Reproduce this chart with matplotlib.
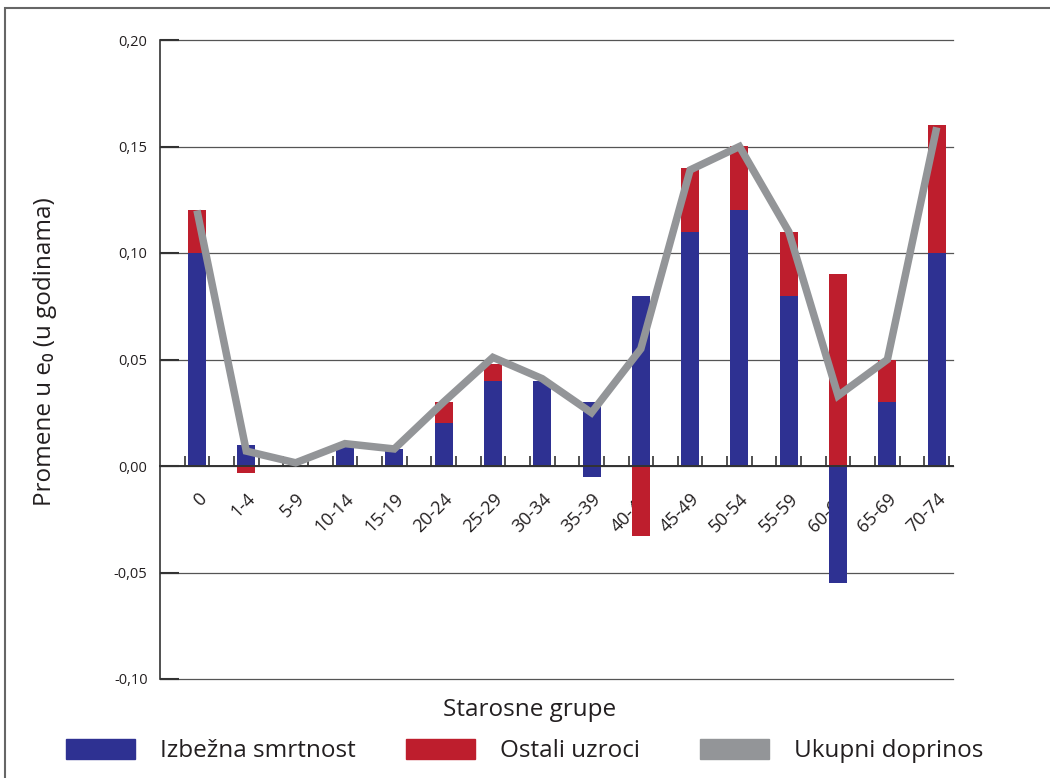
import numpy as np
import matplotlib
matplotlib.use('Agg')
import matplotlib.pyplot as plt
from matplotlib.patches import Patch, Rectangle

# Doprinos starosnih grupa promeni ocekivanog trajanja zivota
starosne_grupe = ['0', '1-4', '5-9', '10-14', '15-19', '20-24', '25-29', '30-34',
                  '35-39', '40-44', '45-49', '50-54', '55-59', '60-64', '65-69', '70-74']

# pozitivni i negativni delovi stubica
izbezna_plus = [0.100, 0.010, 0.000, 0.009, 0.008, 0.020, 0.040, 0.040,
                0.030, 0.080, 0.110, 0.120, 0.080, 0.000, 0.030, 0.100]
izbezna_minus = [0.000, 0.000, 0.000, 0.000, 0.000, 0.000, 0.000, 0.000,
                 -0.005, 0.000, 0.000, 0.000, 0.000, -0.055, 0.000, 0.000]
ostali_plus = [0.020, 0.000, 0.000, 0.000, 0.000, 0.010, 0.008, 0.000,
               0.000, 0.000, 0.030, 0.030, 0.030, 0.090, 0.020, 0.060]
ostali_minus = [0.000, -0.0035, 0.000, 0.000, 0.000, 0.000, 0.000, 0.000,
                0.000, -0.033, 0.000, 0.000, 0.000, 0.000, 0.000, 0.000]

ukupni_doprinos = [0.120, 0.007, 0.0015, 0.0105, 0.008, 0.030, 0.051, 0.041,
                   0.025, 0.055, 0.139, 0.150, 0.110, 0.033, 0.050, 0.159]

y_ticks = [-0.10, -0.05, 0.00, 0.05, 0.10, 0.15, 0.20]

PLAVA = '#2E3192'
CRVENA = '#BE1E2D'
SIVA = '#939598'
TEKST = '#231F20'

plt.rcParams['font.family'] = ['Open Sans', 'DejaVu Sans']


def main():
    fig = plt.figure(figsize=(10.5, 7.78), dpi=100)
    W, H = 1050, 778
    ax = fig.add_axes([160 / W, 1 - 679 / H, 793 / W, 639 / H])

    x = np.arange(len(starosne_grupe))
    sirina = 0.365

    ax.bar(x, izbezna_plus, sirina, color=PLAVA, zorder=2)
    ax.bar(x, ostali_plus, sirina, bottom=izbezna_plus, color=CRVENA, zorder=2)
    ax.bar(x, izbezna_minus, sirina, color=PLAVA, zorder=2)
    ax.bar(x, ostali_minus, sirina, bottom=izbezna_minus, color=CRVENA, zorder=2)

    ax.plot(x, ukupni_doprinos, color=SIVA, lw=5.4, solid_joinstyle='miter',
            solid_capstyle='butt', zorder=3)

    ax.set_xlim(-0.75, 15.33)
    ax.set_ylim(-0.10, 0.20)

    # y osa
    ax.set_yticks(y_ticks)
    ax.set_yticklabels([('%.2f' % v).replace('.', ',') for v in y_ticks])
    ax.tick_params(axis='y', direction='in', length=14, width=1.5, color='#333333',
                   labelsize=10.5, labelcolor=TEKST, pad=9)
    ax.grid(axis='y', color='#555555', lw=0.9)
    for linija in ax.get_ygridlines():
        linija.set_clip_on(False)
    ax.set_axisbelow(True)

    # x osa na nuli
    ax.spines['bottom'].set_position(('data', 0))
    ax.spines['bottom'].set_color('#333333')
    ax.spines['bottom'].set_linewidth(1.4)
    ax.spines['left'].set_color('#333333')
    ax.spines['left'].set_linewidth(1.2)
    ax.spines['top'].set_visible(False)
    ax.spines['right'].set_visible(False)

    ax.set_xticks(x)
    ax.set_xticklabels(starosne_grupe, rotation=45, ha='right', va='top',
                       rotation_mode='anchor')
    ax.set_xticks(np.concatenate([x - 0.25, x + 0.25]), minor=True)
    ax.tick_params(axis='x', which='major', length=0, labelsize=13,
                   labelcolor=TEKST, pad=17)
    ax.tick_params(axis='x', which='minor', direction='in', length=7, width=1.2,
                   color='#333333')

    ax.set_ylabel('Promene u e\u2080 (u godinama)', fontsize=17.5, color=TEKST)
    ax.yaxis.set_label_coords(-0.13, 0.512)

    fig.text(530 / W, 1 - 710 / H, 'Starosne grupe', ha='center', va='center',
             fontsize=17.5, color=TEKST)

    # legenda
    stavke = [('Izbežna smrtnost', PLAVA, 66), ('Ostali uzroci', CRVENA, 406),
              ('Ukupni doprinos', SIVA, 700)]
    for tekst, boja, levo in stavke:
        leg = fig.legend(handles=[Patch(color=boja, label=tekst)], loc='center left',
                         bbox_to_anchor=(levo / W, 1 - 751 / H), frameon=False,
                         fontsize=17.5, handlelength=2.85, handleheight=0.9,
                         handletextpad=1.0, borderpad=0, borderaxespad=0)
        for t in leg.get_texts():
            t.set_color(TEKST)

    # okvir slike
    fig.patches.append(Rectangle((5 / W, -0.1), 1.2, 1.1 - 8 / H,
                                 transform=fig.transFigure, fill=False,
                                 edgecolor='#666666', lw=1.5))

    fig.savefig('out.png', dpi=100)


if __name__ == '__main__':
    main()
